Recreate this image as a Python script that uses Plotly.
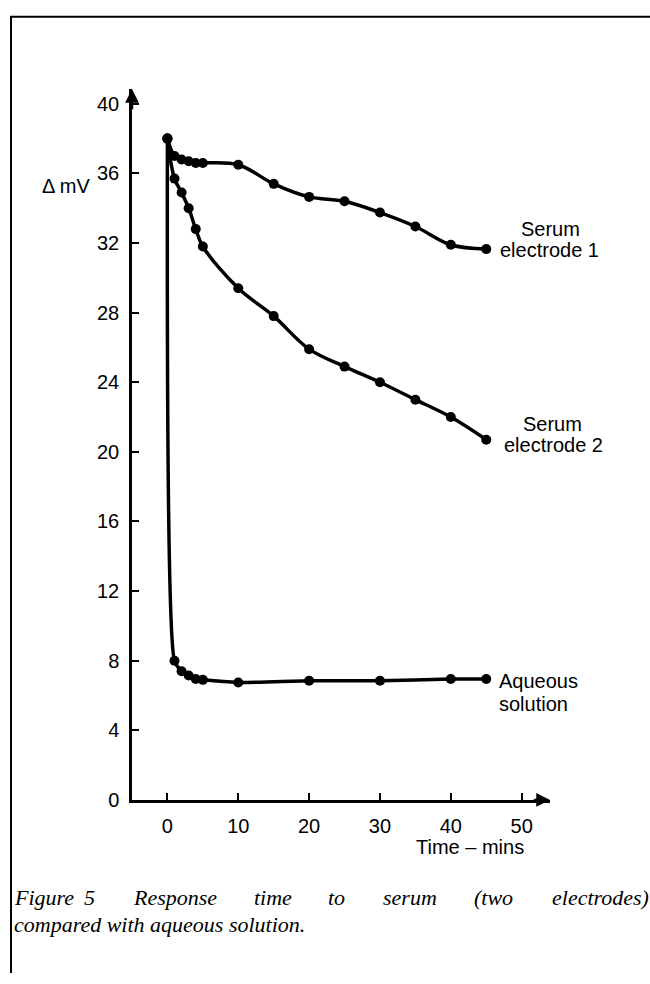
import plotly.graph_objects as go

# ---- data ----
t_serum1 = [0, 1, 2, 3, 4, 5, 10, 15, 20, 25, 30, 35, 40, 45]
mv_serum1 = [38.0, 37.0, 36.8, 36.7, 36.6, 36.6, 36.5, 35.4, 34.65, 34.4, 33.75, 32.95, 31.9, 31.65]

t_serum2 = [0, 1, 2, 3, 4, 5, 10, 15, 20, 25, 30, 35, 40, 45]
mv_serum2 = [38.0, 35.7, 34.9, 34.0, 32.8, 31.8, 29.4, 27.8, 25.9, 24.9, 24.0, 23.0, 22.0, 20.7]

t_aqueous = [0, 1, 2, 3, 4, 5, 10, 20, 30, 40, 45]
mv_aqueous = [38.0, 8.0, 7.4, 7.15, 6.95, 6.9, 6.75, 6.85, 6.85, 6.95, 6.95]

x_ticks = [0, 10, 20, 30, 40, 50]
y_ticks = [0, 4, 8, 12, 16, 20, 24, 28, 32, 36, 40]

W, H = 650, 984
def px(x):
    return x / W
def py(y):
    return 1 - y / H

SANS = "Liberation Sans, Arial, Helvetica, sans-serif"
SERIF = "Liberation Serif, Times New Roman, serif"

fig = go.Figure()
for t, v, sm in [(t_serum1, mv_serum1, 1.0), (t_serum2, mv_serum2, 1.0), (t_aqueous, mv_aqueous, 0.6)]:
    fig.add_trace(go.Scatter(
        x=t, y=v, mode="lines+markers",
        line=dict(color="black", width=3.5, shape="spline", smoothing=sm),
        marker=dict(color="black", size=10),
        cliponaxis=False, showlegend=False, hoverinfo="skip"))

fig.update_layout(
    width=W, height=H, autosize=False,
    margin=dict(l=0, r=0, t=0, b=0),
    paper_bgcolor="white", plot_bgcolor="white",
    font=dict(family=SANS, color="black", size=20),
    xaxis=dict(domain=[px(132), px(550)], range=[-5, 54],
               tickvals=x_ticks, ticks="inside", ticklen=7, tickwidth=2,
               tickcolor="black", showline=True, linecolor="black", linewidth=2.5,
               showgrid=False, zeroline=False, ticklabelstandoff=6,
               tickfont=dict(size=20, family=SANS)),
    yaxis=dict(domain=[py(809), py(90)], range=[0, 40.85],
               tickvals=y_ticks, ticks="inside", ticklen=7, tickwidth=2,
               tickcolor="black", showline=True, linecolor="black", linewidth=2.5,
               showgrid=False, zeroline=False, ticklabelstandoff=6,
               tickfont=dict(size=20, family=SANS)),
)

# axis arrows
fig.add_annotation(x=-5, y=40.85, ax=-5, ay=39.6, xref="x", yref="y", axref="x", ayref="y",
                   showarrow=True, arrowhead=2, arrowsize=1.1, arrowwidth=2.5, arrowcolor="black", text="")
fig.add_annotation(x=54, y=0, ax=51.5, ay=0, xref="x", yref="y", axref="x", ayref="y",
                   showarrow=True, arrowhead=2, arrowsize=1.1, arrowwidth=2.5, arrowcolor="black", text="")

def label(text, x, y, anchor="center", size=20, family=SANS, italic=False):
    fig.add_annotation(text=text, x=px(x), y=py(y), xref="paper", yref="paper",
                       xanchor=anchor, yanchor="middle", showarrow=False,
                       font=dict(size=size, family=family, color="black",
                                 style="italic" if italic else "normal"))

label("Δ mV", 40, 188, anchor="left")
label("Time – mins", 470, 857)
label("Serum", 550, 232)
label("electrode 1", 549, 253)
label("Serum", 552, 429)
label("electrode 2", 553, 450)
label("Aqueous", 497, 689, anchor="left")
label("solution", 497, 712, anchor="left")

# caption (justified first line)
cap_words = ["Figure", "5", "Response", "time", "to", "serum", "(two", "electrodes)"]
cap_x = [12, 82, 131, 252, 326, 381, 472, 550]
for w, x in zip(cap_words, cap_x):
    label(w, x, 908, anchor="left", size=22, family=SERIF, italic=True)
label("compared with aqueous solution.", 12, 935, anchor="left", size=22, family=SERIF, italic=True)

# frame border (top and left)
fig.add_shape(type="line", xref="paper", yref="paper", x0=px(10), x1=1, y0=py(17), y1=py(17),
              line=dict(color="black", width=2))
fig.add_shape(type="line", xref="paper", yref="paper", x0=px(11), x1=px(11), y0=py(17), y1=0,
              line=dict(color="black", width=2))

fig.write_html("out.html", config={"responsive": False})
